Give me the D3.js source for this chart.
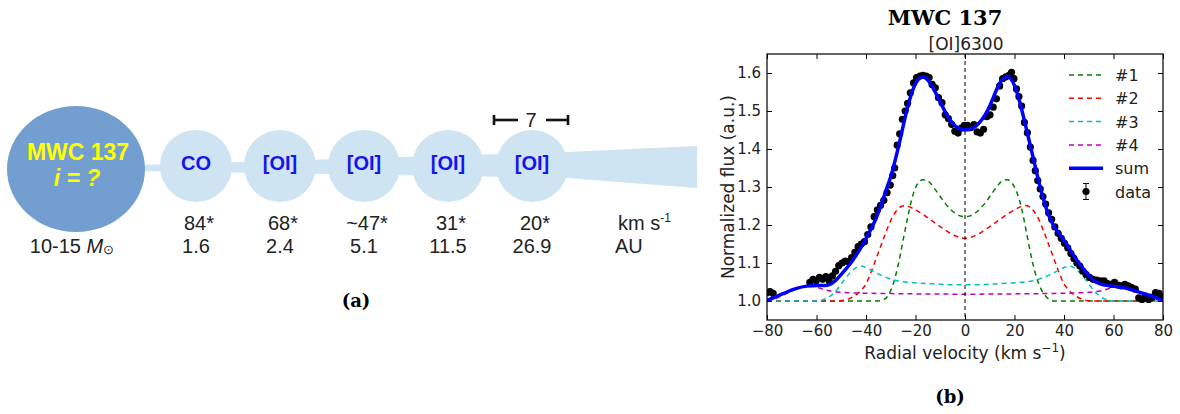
<!DOCTYPE html>
<html>
<head>
<meta charset="utf-8">
<script src="https://cdn.jsdelivr.net/npm/d3@7"></script>
<style>
  body { margin: 0; background: #fff; }
  svg { display: block; }
</style>
</head>
<body>
<svg id="fig" width="1180" height="414"></svg>
<script>
// ---- panel (a): disk schematic ----
const starName = "MWC 137";
const starIncl = "i = ?";
const starMass = "10-15 ";
const zoneSpecies = ["CO", "[OI]", "[OI]", "[OI]", "[OI]"];
const zoneVelocity = ["84*", "68*", "~47*", "31*", "20*"];
const zoneRadius = ["1.6", "2.4", "5.1", "11.5", "26.9"];
const ringWidth = "7";

// ---- panel (b): [OI]6300 profile ----
const xTicks = [-80, -60, -40, -20, 0, 20, 40, 60, 80];
const yTicks = [1.0, 1.1, 1.2, 1.3, 1.4, 1.5, 1.6];

const comp1Vel = [-80,-36,-33,-31,-29,-27,-25,-23,-21,-19,-17,-15.5,-14,-12,-10,-8,-6,-4,-2,0,2,4,6,8,10,12,14,15.5,17,19,21,23,25,27,29,31,33,36,80];
const comp1Flux = [1.0,1.0,1.003,1.015,1.045,1.095,1.16,1.225,1.28,1.31,1.319,1.318,1.31,1.293,1.275,1.257,1.242,1.231,1.224,1.222,1.224,1.231,1.242,1.257,1.275,1.293,1.31,1.318,1.319,1.31,1.285,1.24,1.175,1.11,1.06,1.028,1.01,1.0,1.0];

const comp2Vel = [-80,-52,-48,-45,-42,-40,-38,-36,-34,-32,-30,-28,-26,-24.5,-23,-20,-17,-14,-11,-8,-5,-2,0,2,5,8,11,14,17,20,23,24.5,26,28,30,32,34,36,38,40,42,45,48,52,80];
const comp2Flux = [1.0,1.0,1.003,1.012,1.028,1.045,1.075,1.11,1.145,1.18,1.212,1.235,1.248,1.251,1.249,1.24,1.228,1.214,1.2,1.187,1.175,1.167,1.165,1.167,1.175,1.187,1.2,1.214,1.228,1.24,1.249,1.251,1.248,1.235,1.212,1.18,1.145,1.11,1.075,1.045,1.028,1.012,1.003,1.0,1.0];

const comp3Vel = [-80,-60,-57,-54,-52,-50,-48,-46,-44,-42,-40,-37,-34,-31,-28,-24,-18,-12,-6,0,6,12,18,24,28,31,34,37,40,42,44,46,48,50,52,54,57,60,80];
const comp3Flux = [1.0,1.0,1.004,1.015,1.028,1.045,1.062,1.077,1.088,1.092,1.088,1.078,1.068,1.06,1.054,1.05,1.047,1.045,1.043,1.043,1.043,1.045,1.047,1.05,1.054,1.06,1.068,1.078,1.088,1.092,1.088,1.077,1.062,1.045,1.028,1.015,1.004,1.0,1.0];

const comp4Vel = [-80,-76,-72,-68,-64,-61,-58,-55,-50,-44,-36,-24,0,24,36,44,50,55,58,61,64,68,72,76,80];
const comp4Flux = [1.0,1.008,1.02,1.032,1.039,1.038,1.032,1.027,1.023,1.021,1.02,1.019,1.018,1.019,1.02,1.021,1.023,1.027,1.032,1.038,1.039,1.032,1.02,1.008,1.0];

const sumVel = [-80,-76,-72,-68,-64,-60,-56,-54,-52,-50,-48,-46,-44,-42,-40,-38,-36,-34,-32,-30,-28,-26,-24,-22,-20,-18,-16,-14,-12,-10,-8,-6,-4,-2,0,2,4,6,8,10,12,14,16,18,20,22,24,26,28,30,32,34,36,38,40,42,44,46,48,50,52,54,58,62,66,70,74,78,80];
const sumFlux = [1.002,1.012,1.024,1.034,1.040,1.041,1.040,1.044,1.055,1.07,1.085,1.101,1.12,1.141,1.164,1.189,1.215,1.25,1.29,1.325,1.375,1.43,1.49,1.54,1.575,1.591,1.59,1.574,1.55,1.524,1.497,1.475,1.46,1.452,1.45,1.451,1.457,1.47,1.487,1.512,1.545,1.575,1.591,1.592,1.57,1.528,1.475,1.42,1.365,1.308,1.26,1.22,1.195,1.178,1.16,1.14,1.118,1.1,1.083,1.067,1.054,1.045,1.04,1.038,1.033,1.024,1.016,1.007,1.002];

const dataVel = [-80,-78.8,-77.5,-62.7,-61.4,-60.1,-58.8,-57.5,-56.2,-54.9,-53.6,-52.3,-51,-49.7,-48.4,-47.1,-45.8,-44.5,-43.2,-41.9,-40.6,-39.3,-38,-36.7,-35.4,-34.1,-32.8,-31.5,-30.2,-29.2,-28.4,-27.4,-26.4,-25.3,-24.2,-23.2,-22.1,-20.8,-19.6,-18.2,-17,-15.7,-14.5,-13.3,-12,-10.7,-9.3,-8,-6.7,-5.4,-4.1,-2.8,-1.5,-0.3,1,2.3,3.6,4.9,6.2,7.5,8.8,10.1,11.4,12.7,14,15.2,16.5,17.8,18.8,19.8,20.8,21.8,22.9,24,25.2,26.4,27.5,28.4,29.4,30.4,31.5,32.6,33.8,35,36.3,37.6,38.9,40.2,41.5,42.8,44,45.2,46.4,47.6,48.9,50.3,51.7,53.2,54.7,56.2,57.6,59,60.4,61.8,63.2,64.6,66,67.4,68.8,70.2,71.5,72.8,74.2,75.6,77,78.4,79.7];
const dataFlux = [1.022,1.025,1.02,1.049,1.057,1.053,1.062,1.057,1.064,1.053,1.066,1.078,1.093,1.1,1.105,1.103,1.114,1.128,1.143,1.15,1.156,1.175,1.195,1.222,1.24,1.252,1.265,1.285,1.305,1.33,1.35,1.41,1.44,1.478,1.5,1.52,1.548,1.574,1.588,1.592,1.594,1.592,1.588,1.57,1.561,1.535,1.522,1.49,1.48,1.465,1.447,1.442,1.455,1.462,1.462,1.456,1.464,1.445,1.442,1.452,1.485,1.49,1.51,1.532,1.566,1.585,1.59,1.594,1.602,1.585,1.558,1.538,1.513,1.47,1.443,1.405,1.37,1.343,1.317,1.295,1.275,1.255,1.232,1.215,1.195,1.178,1.165,1.152,1.14,1.125,1.112,1.1,1.092,1.079,1.07,1.062,1.057,1.055,1.053,1.053,1.046,1.044,1.049,1.042,1.04,1.044,1.04,1.035,1.031,1.008,1.004,1.013,1.004,1.01,1.022,1.02,1.012];

const compNames = ["#1", "#2", "#3", "#4"];
const compColors = ["#008000", "#ff0000", "#00bfbf", "#bf00bf"];

const svg = d3.select("#fig");
svg.append("rect").attr("width", 1180).attr("height", 414).attr("fill", "#fff");

const sans = "'Liberation Sans', Arial, sans-serif";
const plotFont = "'DejaVu Sans', sans-serif";
const serifBold = "'DejaVu Serif', serif";

// ================= panel (a) =================
const ga = svg.append("g");
const zx = d3.scalePoint().domain(d3.range(zoneSpecies.length)).range([196, 532]);
const diskFill = "#cfe4f3";
const diskY = 166, zoneR = 36;

// tapered disk band behind the zones
ga.append("path")
  .attr("d", `M140,${diskY - 1} L${zx(4) + 34},${diskY - 14} L697,${diskY - 20} L697,${diskY + 22} L${zx(4) + 34},${diskY + 12} L140,${diskY + 5} Z`)
  .attr("fill", diskFill);

ga.selectAll("circle.zone").data(zoneSpecies).join("circle")
  .attr("class", "zone")
  .attr("cx", (d, i) => zx(i))
  .attr("cy", diskY)
  .attr("r", zoneR)
  .attr("fill", diskFill);

ga.selectAll("text.species").data(zoneSpecies).join("text")
  .attr("class", "species")
  .attr("x", (d, i) => zx(i))
  .attr("y", diskY + 4)
  .attr("text-anchor", "middle")
  .attr("font-family", sans).attr("font-weight", "bold").attr("font-size", 20)
  .attr("fill", "#1414ee")
  .text(d => d);

// central star
ga.append("ellipse")
  .attr("cx", 76).attr("cy", 169).attr("rx", 69).attr("ry", 63)
  .attr("fill", "#729fcf");
ga.append("text").attr("x", 78).attr("y", 160).attr("text-anchor", "middle")
  .attr("font-family", sans).attr("font-weight", "bold").attr("font-size", 23)
  .attr("fill", "#ffff00").text(starName);
ga.append("text").attr("x", 77).attr("y", 186).attr("text-anchor", "middle")
  .attr("font-family", sans).attr("font-weight", "bold").attr("font-style", "italic").attr("font-size", 23)
  .attr("fill", "#ffff00").text(starIncl);

// velocity and radius rows
ga.selectAll("text.vel").data(zoneVelocity).join("text")
  .attr("class", "vel")
  .attr("x", (d, i) => zx(i) + 3)
  .attr("y", 230)
  .attr("text-anchor", "middle")
  .attr("font-family", sans).attr("font-size", 20).attr("fill", "#222")
  .text(d => d);
ga.selectAll("text.rad").data(zoneRadius).join("text")
  .attr("class", "rad")
  .attr("x", (d, i) => zx(i))
  .attr("y", 253)
  .attr("text-anchor", "middle")
  .attr("font-family", sans).attr("font-size", 20).attr("fill", "#222")
  .text(d => d);

const kms = ga.append("text").attr("x", 618).attr("y", 230)
  .attr("font-family", sans).attr("font-size", 20).attr("fill", "#222");
kms.append("tspan").text("km s");
kms.append("tspan").attr("font-size", 12).attr("dy", -8).text("-1");
ga.append("text").attr("x", 615).attr("y", 253)
  .attr("font-family", sans).attr("font-size", 20).attr("fill", "#222").text("AU");

const mass = ga.append("text").attr("x", 72).attr("y", 253).attr("text-anchor", "middle")
  .attr("font-family", sans).attr("font-size", 20).attr("fill", "#222");
mass.append("tspan").text(starMass);
mass.append("tspan").attr("font-style", "italic").text("M");
mass.append("tspan").attr("font-size", 13).attr("dy", 1).text("\u2299");

// ring-width bracket over the outer [OI] zone
const bx0 = zx(4) - 38, bx1 = zx(4) + 36, by = 120;
const br = ga.append("g").attr("stroke", "#111").attr("stroke-width", 2.6).attr("fill", "none");
br.append("line").attr("x1", bx0).attr("x2", bx0 + 24).attr("y1", by).attr("y2", by);
br.append("line").attr("x1", bx1 - 22).attr("x2", bx1).attr("y1", by).attr("y2", by);
br.append("line").attr("x1", bx0).attr("x2", bx0).attr("y1", by - 5).attr("y2", by + 5);
br.append("line").attr("x1", bx1).attr("x2", bx1).attr("y1", by - 5).attr("y2", by + 5);
ga.append("text").attr("x", zx(4) - 1).attr("y", 127).attr("text-anchor", "middle")
  .attr("font-family", sans).attr("font-size", 20).attr("fill", "#222").text(ringWidth);

ga.append("text").attr("x", 356).attr("y", 307).attr("text-anchor", "middle")
  .attr("font-family", serifBold).attr("font-weight", "bold").attr("font-size", 18)
  .text("(a)");

// ================= panel (b) =================
const m = { left: 767, right: 1163, top: 54, bottom: 320 };
const x = d3.scaleLinear().domain([-80, 80]).range([m.left, m.right]);
const y = d3.scaleLinear().domain([0.95, 1.65]).range([m.bottom, m.top]);
const gb = svg.append("g");

gb.append("clipPath").attr("id", "plotclip").append("rect")
  .attr("x", m.left).attr("y", m.top).attr("width", m.right - m.left).attr("height", m.bottom - m.top);

const plot = gb.append("g").attr("clip-path", "url(#plotclip)");
const line = d3.line().x(d => x(d[0])).y(d => y(d[1])).curve(d3.curveMonotoneX);
const smoothLine = d3.line().x(d => x(d[0])).y(d => y(d[1])).curve(d3.curveBasis);

const comps = [
  d3.zip(comp1Vel, comp1Flux),
  d3.zip(comp2Vel, comp2Flux),
  d3.zip(comp3Vel, comp3Flux),
  d3.zip(comp4Vel, comp4Flux)
];

plot.selectAll("path.comp").data(comps).join("path")
  .attr("class", "comp")
  .attr("d", line)
  .attr("fill", "none")
  .attr("stroke", (d, i) => compColors[i])
  .attr("stroke-width", 1.5)
  .attr("stroke-dasharray", "5,4");

// zero-velocity marker
plot.append("line")
  .attr("x1", x(0)).attr("x2", x(0)).attr("y1", m.top).attr("y2", m.bottom)
  .attr("stroke", "#000").attr("stroke-width", 1).attr("stroke-dasharray", "4,3");

plot.selectAll("circle.obs").data(d3.zip(dataVel, dataFlux)).join("circle")
  .attr("class", "obs")
  .attr("cx", d => x(d[0])).attr("cy", d => y(d[1])).attr("r", 3.6)
  .attr("fill", "#000");

plot.append("path")
  .datum(d3.zip(sumVel, sumFlux))
  .attr("d", smoothLine)
  .attr("fill", "none")
  .attr("stroke", "#0000ff")
  .attr("stroke-width", 3.5);

// axes, ticks inward on all four sides
const styleAxis = g => {
  g.select(".domain").remove();
  g.selectAll(".tick line").attr("stroke", "#000");
  g.selectAll(".tick text").attr("fill", "#222").attr("font-family", plotFont).attr("font-size", 15);
};
gb.append("g").attr("transform", `translate(0,${m.bottom})`)
  .call(d3.axisBottom(x).tickValues(xTicks).tickSizeInner(-5).tickSizeOuter(0).tickPadding(5).tickFormat(d3.format("d")))
  .call(styleAxis);
gb.append("g").attr("transform", `translate(0,${m.top})`)
  .call(d3.axisTop(x).tickValues(xTicks).tickSizeInner(-5).tickSizeOuter(0).tickFormat(""))
  .call(styleAxis);
gb.append("g").attr("transform", `translate(${m.left},0)`)
  .call(d3.axisLeft(y).tickValues(yTicks).tickSizeInner(-5).tickSizeOuter(0).tickPadding(6).tickFormat(d3.format(".1f")))
  .call(styleAxis);
gb.append("g").attr("transform", `translate(${m.right},0)`)
  .call(d3.axisRight(y).tickValues(yTicks).tickSizeInner(-5).tickSizeOuter(0).tickFormat(""))
  .call(styleAxis);

gb.append("rect")
  .attr("x", m.left).attr("y", m.top).attr("width", m.right - m.left).attr("height", m.bottom - m.top)
  .attr("fill", "none").attr("stroke", "#111").attr("stroke-width", 1.3);

// legend
const lg = gb.append("g");
const rowY = i => 75 + i * 23.3;
compNames.forEach((name, i) => {
  lg.append("line").attr("x1", 1069).attr("x2", 1103).attr("y1", rowY(i)).attr("y2", rowY(i))
    .attr("stroke", compColors[i]).attr("stroke-width", 1.5).attr("stroke-dasharray", "5,4");
  lg.append("text").attr("x", 1115).attr("y", rowY(i) + 6)
    .attr("font-family", plotFont).attr("font-size", 16).attr("fill", "#222").text(name);
});
lg.append("line").attr("x1", 1069).attr("x2", 1103).attr("y1", rowY(4)).attr("y2", rowY(4))
  .attr("stroke", "#0000ff").attr("stroke-width", 3.5);
lg.append("text").attr("x", 1115).attr("y", rowY(4) + 6)
  .attr("font-family", plotFont).attr("font-size", 16).attr("fill", "#222").text("sum");
const eb = lg.append("g").attr("stroke", "#000").attr("stroke-width", 1);
eb.append("line").attr("x1", 1086).attr("x2", 1086).attr("y1", rowY(5) - 8).attr("y2", rowY(5) + 8);
eb.append("line").attr("x1", 1083).attr("x2", 1089).attr("y1", rowY(5) - 8).attr("y2", rowY(5) - 8);
eb.append("line").attr("x1", 1083).attr("x2", 1089).attr("y1", rowY(5) + 8).attr("y2", rowY(5) + 8);
lg.append("circle").attr("cx", 1086).attr("cy", rowY(5)).attr("r", 3.6).attr("fill", "#000");
lg.append("text").attr("x", 1115).attr("y", rowY(5) + 6)
  .attr("font-family", plotFont).attr("font-size", 16).attr("fill", "#222").text("data");

// titles and labels
gb.append("text").attr("x", 945).attr("y", 25).attr("text-anchor", "middle")
  .attr("font-family", serifBold).attr("font-weight", "bold").attr("font-size", 21).text("MWC 137");
gb.append("text").attr("x", 966).attr("y", 50).attr("text-anchor", "middle")
  .attr("font-family", plotFont).attr("font-size", 17).attr("fill", "#222").text("[OI]6300");

const xl = gb.append("text").attr("x", 965).attr("y", 359).attr("text-anchor", "middle")
  .attr("font-family", plotFont).attr("font-size", 17).attr("fill", "#222");
xl.append("tspan").text("Radial velocity (km s");
xl.append("tspan").attr("font-size", 12).attr("dy", -7).text("\u22121");
xl.append("tspan").attr("dy", 7).text(")");

gb.append("text")
  .attr("transform", `translate(734,${(m.top + m.bottom) / 2}) rotate(-90)`)
  .attr("text-anchor", "middle")
  .attr("font-family", plotFont).attr("font-size", 17).attr("fill", "#222")
  .text("Normalized flux (a.u.)");

gb.append("text").attr("x", 950).attr("y", 403).attr("text-anchor", "middle")
  .attr("font-family", serifBold).attr("font-weight", "bold").attr("font-size", 18)
  .text("(b)");
</script>
</body>
</html>
